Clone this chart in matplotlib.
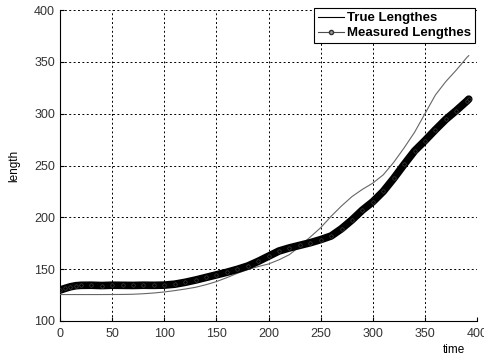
import numpy as np
import matplotlib
matplotlib.use("Agg")
import matplotlib.pyplot as plt
from matplotlib.lines import Line2D

plt.rcParams["font.family"] = ["Liberation Sans", "DejaVu Sans"]

# true lengths (thin gray line)
t_true = [0, 20, 40, 60, 70, 80, 90, 100, 110, 120, 130, 140, 150, 160, 170,
          180, 190, 200, 210, 220, 230, 240, 250, 260, 270, 280, 290, 300,
          310, 320, 330, 340, 350, 360, 370, 380, 390, 392]
true_len = [125.5, 125.5, 125.5, 125.6, 125.8, 126.3, 127.0, 128.0, 129.3,
            130.8, 132.5, 135.0, 138.0, 141.8, 146.0, 149.5, 152.5, 155.0,
            159.0, 164.0, 172.0, 181.0, 190.0, 201.0, 211.0, 220.0, 227.0,
            233.0, 241.0, 253.0, 267.0, 282.0, 300.0, 318.0, 331.0, 342.0,
            354.0, 356.0]

# measured lengths (thick marker line)
t_meas = [0, 5, 10, 15, 20, 30, 40, 50, 60, 70, 80, 90, 100, 110, 120, 130,
          140, 150, 160, 170, 180, 190, 200, 210, 220, 230, 240, 250, 260,
          270, 280, 290, 300, 310, 320, 330, 340, 350, 360, 370, 380, 390, 392]
meas_len = [129.8, 131.5, 133.0, 134.0, 134.4, 134.5, 134.2, 134.5, 134.4,
            134.3, 134.5, 134.4, 134.6, 135.5, 137.3, 139.5, 142.0, 144.5,
            147.0, 149.8, 153.0, 157.5, 162.5, 167.5, 170.5, 173.0, 175.5,
            178.5, 182.0, 189.0, 197.5, 207.0, 215.0, 225.0, 237.5, 251.0,
            264.0, 274.0, 284.5, 294.5, 303.0, 312.0, 314.0]

fig = plt.figure(figsize=(4.85, 3.58), dpi=100)
ax = fig.add_axes([0.1237, 0.1034, 0.86, 0.8686])

ax.plot(t_true, true_len, "-", color="0.4", lw=0.8, zorder=3)
ax.plot(t_meas, meas_len, "-", color="black", lw=5.5, zorder=4,
        solid_capstyle="round")
ax.plot(t_meas, meas_len, "o", ms=2.5, mfc="black", mec="0.3", mew=0.4,
        zorder=5)

ax.set_xlim(0, 400)
ax.set_ylim(100, 400)
ax.set_xticks(np.arange(0, 401, 50))
ax.set_yticks(np.arange(100, 401, 50))
ax.tick_params(direction="in", length=3, labelsize=9, colors="black",
               labelcolor="#333333")
ax.tick_params(axis="x", pad=5)

ax.grid(True, color="black", linestyle=(0, (2, 2.5)), lw=0.7)
ax.spines["top"].set_visible(False)
ax.spines["right"].set_visible(False)

ax.set_xlabel("time", fontsize=8.5)
ax.xaxis.set_label_coords(0.945, -0.075)
ax.set_ylabel("length", fontsize=8.5)
ax.yaxis.set_label_coords(-0.095, 0.5)

handles = [Line2D([], [], color="black", lw=0.8),
           Line2D([], [], color="0.3", lw=0.8, marker="o", ms=3,
                  mfc="0.6", mec="0.2")]
leg = ax.legend(handles, ["True Lengthes", "Measured Lengthes"], loc="upper right",
                frameon=True, fancybox=False, framealpha=1,
                edgecolor="black", borderpad=0.3, handlelength=1.9,
                handletextpad=0.3, labelspacing=0.2, borderaxespad=0,
                prop={"weight": "bold", "size": 9.5},
                bbox_to_anchor=(0.996, 1.006))
leg.get_frame().set_linewidth(0.8)

fig.savefig("out.png", dpi=100)
